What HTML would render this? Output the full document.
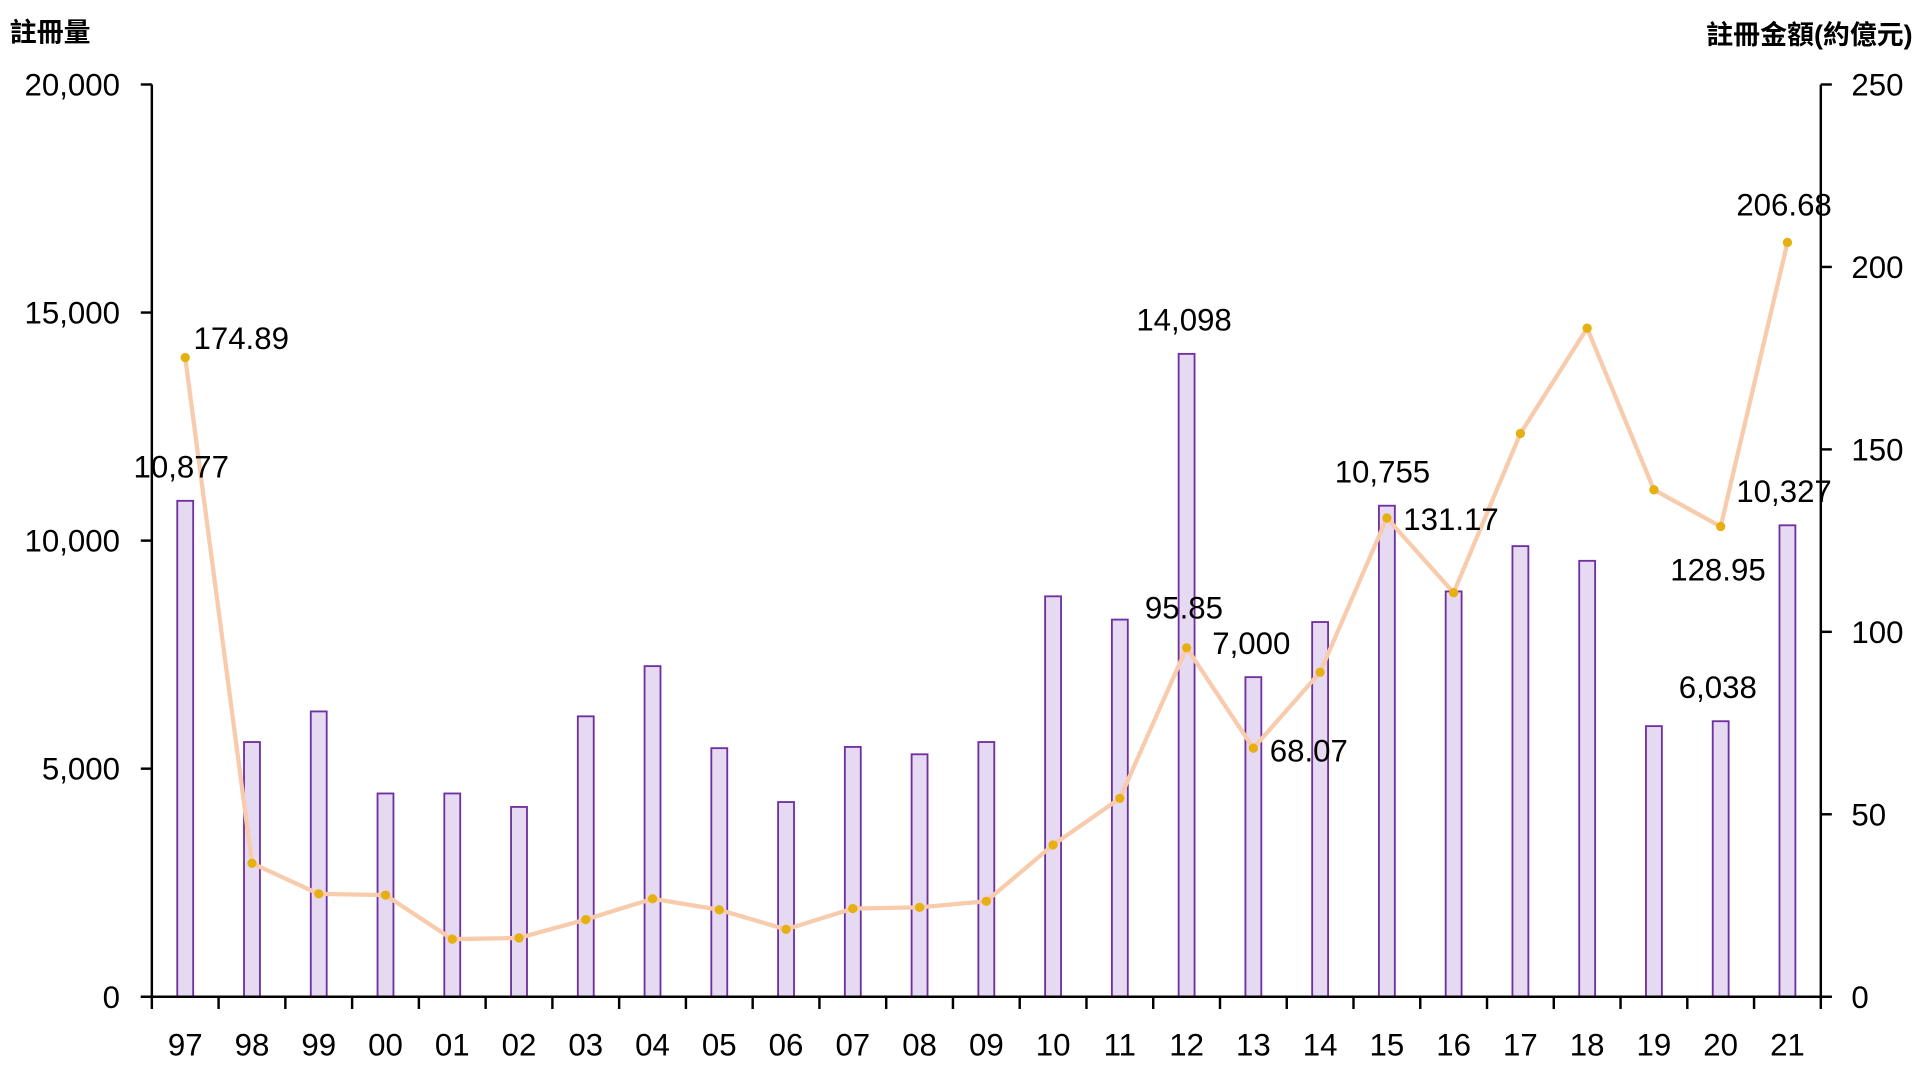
<!DOCTYPE html>
<html><head><meta charset="utf-8"><style>html,body{margin:0;padding:0;background:#fff;overflow:hidden}svg{display:block}
text{font-family:"Liberation Sans","Noto Sans CJK TC",sans-serif;fill:#000}</style></head><body>
<svg width="1920" height="1080" viewBox="0 0 1568 882" preserveAspectRatio="none" xmlns="http://www.w3.org/2000/svg">
<g id="bars" fill="#e6d9f2" stroke="#7030a0" stroke-width="1.5"></g>
<g stroke="#000" stroke-width="2" fill="none">
<line x1="124" y1="69" x2="124" y2="815"/><line x1="1487" y1="69" x2="1487" y2="815"/><line x1="115" y1="814" x2="1496" y2="814"/>
<g id="ticks"></g></g>
<polyline id="ln" fill="none" stroke="#f8cbad" stroke-width="3.5" stroke-linejoin="round"/>
<g id="dots" fill="#e6b012"></g>
<g id="lbl" font-size="25.5"></g>
<text x="8" y="34" font-size="22" font-weight="bold">註冊量</text>
<text x="1562" y="36" font-size="22" font-weight="bold" text-anchor="end">註冊金額(約億元)</text>
<g font-size="25.5">
<text x="158" y="285">174.89</text><text x="109" y="390">10,877</text>
<text x="928" y="270">14,098</text><text x="935" y="505">95.85</text>
<text x="990" y="534">7,000</text><text x="1037" y="622">68.07</text>
<text x="1090" y="394">10,755</text><text x="1146" y="433">131.17</text>
<text x="1418" y="176">206.68</text><text x="1418" y="410">10,327</text>
<text x="1364" y="474">128.95</text><text x="1371" y="570">6,038</text>
</g>
<script>
var NS="http://www.w3.org/2000/svg";
function el(p,t,a,txt){var e=document.createElementNS(NS,t);for(var k in a)e.setAttribute(k,a[k]);if(txt!=null)e.textContent=txt;document.getElementById(p).appendChild(e);return e;}
var w=(1487-124)/25;
var by=[409,606,581,648,648,659,585,544,611,655,610,616,606,487,506,289,553,508,413,483,446,458,593,589,429];
var ly=[292,705,730,731,767,766,751,734,743,759,742,741,736,690,652,529,611,549,423,484,354,268,400,430,198];
var cats=["97","98","99","00","01","02","03","04","05","06","07","08","09","10","11","12","13","14","15","16","17","18","19","20","21"];
var pts=[];
for(var i=0;i<25;i++){var c=124+w*(i+0.5);
el("bars","rect",{x:c-6.5,y:by[i],width:13,height:814-by[i]});
pts.push(c+","+ly[i]);
el("dots","circle",{cx:c,cy:ly[i],r:3.8});
el("lbl","text",{x:c,y:862,"text-anchor":"middle"},cats[i]);
el("ticks","line",{x1:124+w*i,y1:814,x2:124+w*i,y2:824});}
el("ticks","line",{x1:1487,y1:814,x2:1487,y2:824});
document.getElementById("ln").setAttribute("points",pts.join(" "));
var L=["0","5,000","10,000","15,000","20,000"],R=["0","50","100","150","200","250"];
for(var j=0;j<5;j++){var y=814-j*186.25;el("ticks","line",{x1:115,y1:y,x2:124,y2:y});el("lbl","text",{x:98,y:y+9,"text-anchor":"end"},L[j]);}
for(var j=0;j<6;j++){var y=814-j*149;el("ticks","line",{x1:1487,y1:y,x2:1496,y2:y});el("lbl","text",{x:1512,y:y+9},R[j]);}
</script>
</svg></body></html>
